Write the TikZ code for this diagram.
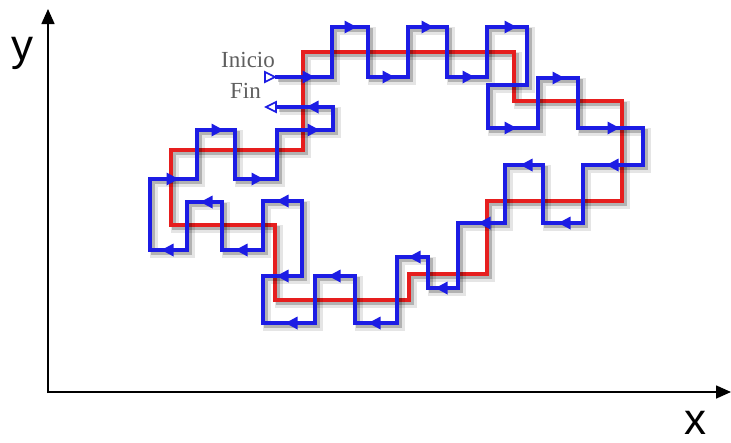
\documentclass[tikz,border=0pt]{standalone}
\usepackage{fontspec}
\setmainfont{Liberation Serif}
\newfontfamily\axisfont{Liberation Sans}
\usetikzlibrary{arrows.meta}
\definecolor{cblue}{RGB}{28,28,228}
\definecolor{cred}{RGB}{230,30,30}
\definecolor{tgray}{RGB}{95,95,95}
\begin{document}
\begin{tikzpicture}[x=1pt,y=-1pt,
  bluepath/.style={draw=cblue,line width=3.3pt,line join=miter},
  redpath/.style={draw=cred,line width=3.6pt,line join=miter},
  shadowA/.style={draw=black,opacity=0.10,line width=8pt,shift={(3.5,3.5)}},
  shadowB/.style={draw=black,opacity=0.22,line width=4pt,shift={(3,3)}},
  axis/.style={draw=black,line width=1.6pt,-{Triangle[length=15pt,width=13pt]}},
  lbl/.style={text=tgray,font=\fontsize{23}{23}\selectfont,inner sep=0pt},
  axlbl/.style={font=\axisfont\fontsize{44}{44}\selectfont,inner sep=0pt}]
\useasboundingbox (0,0) rectangle (731,442);
\fill[white] (0,0) rectangle (731,442);

% axes
\coordinate (o) at (48,393);
\coordinate (ytop) at (48,9);
\coordinate (xo) at (47.2,392);
\coordinate (xend) at (731,392);
\draw[axis] (o) -- (ytop);
\draw[axis] (xo) -- (xend);
\node[axlbl,anchor=base] (ylab) at (22,60) {y};
\node[axlbl,anchor=base] (xlab) at (695,434) {x};

% red outline
\foreach \sty in {shadowA,shadowB,redpath}{
\draw[\sty] (303,52) -- (514,52) -- (514,101) -- (622,101) -- (622,201) -- (487,201) -- (487,274) -- (409,274) -- (409,300) -- (275,300) -- (275,225) -- (171,225) -- (171,150) -- (303,150) -- cycle;
}

% blue trace
\foreach \sty in {shadowA,shadowB,bluepath}{
\draw[\sty] (275,77) -- (332,77) -- (332,27) -- (368,27) -- (368,77) -- (408,77) -- (408,27) -- (447,27) -- (447,77) -- (487,77) -- (487,27) -- (527,27) -- (527,85) -- (488,85) -- (488,128) -- (538,128) -- (538,78) -- (578,78) -- (578,128) -- (643,128) -- (643,165) -- (583,165) -- (583,223) -- (543,223) -- (543,165) -- (505,165) -- (505,223) -- (458,223) -- (458,288) -- (428,288) -- (428,257) -- (397,257) -- (397,323) -- (355,323) -- (355,276) -- (315,276) -- (315,323) -- (263,323) -- (263,276) -- (302,276) -- (302,201) -- (263,201) -- (263,250) -- (222,250) -- (222,202) -- (187,202) -- (187,250) -- (150,250) -- (150,179) -- (197,179) -- (197,130) -- (235,130) -- (235,179) -- (277,179) -- (277,130) -- (333,130) -- (333,107) -- (276,107);
}

% filled arrowheads pointing right
\foreach \x/\y in {308/77,350/27,388/77,427/27,468/77,510/27,510/128,558/78,613/128,172/179,217/130,257/179,313/130}{
  \fill[cblue] (\x+6.5,\y) -- (\x-5.5,\y-6.5) -- (\x-5.5,\y+6.5) -- cycle;
}
% filled arrowheads pointing left
\foreach \x/\y in {613/165,565/223,527/165,485/223,442/288,415/257,375/323,335/276,292/323,283/276,283/201,242/250,207/202,168/250,313/107}{
  \fill[cblue] (\x-6.5,\y) -- (\x+5.5,\y-6.5) -- (\x+5.5,\y+6.5) -- cycle;
}

% open start / end marks
\draw[cblue,line width=1.6pt,fill=white] (265,72) -- (275,77) -- (265,82) -- cycle;
\draw[cblue,line width=1.6pt,fill=white] (266,107) -- (276,102) -- (276,112) -- cycle;

\node[lbl,anchor=base west] (inicio) at (221,67) {Inicio};
\node[lbl,anchor=base west] (fin) at (230,98) {Fin};
\end{tikzpicture}
\end{document}
